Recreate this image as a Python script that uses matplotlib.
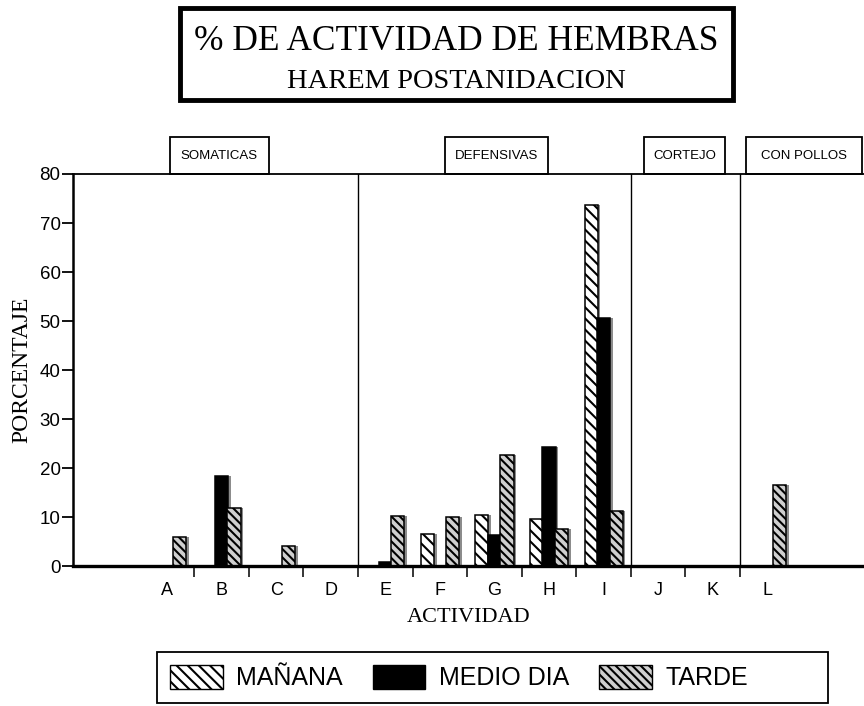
import matplotlib
matplotlib.use("Agg")
import matplotlib.pyplot as plt
import matplotlib.transforms as mtransforms
from matplotlib.patches import Patch, Rectangle
import numpy as np

# datos (porcentaje)
actividades = ["A", "B", "C", "D", "E", "F", "G", "H", "I", "J", "K", "L"]
manana = [0, 0, 0, 0, 0, 6.6, 10.5, 9.6, 73.6, 0, 0, 0]
medio_dia = [0, 18.5, 0, 0, 1.0, 0, 6.4, 24.4, 50.7, 0, 0, 0]
tarde = [6.0, 12.0, 4.1, 0, 10.3, 10.0, 22.8, 7.7, 11.3, 0, 0, 16.6]

grupos = ["SOMATICAS", "DEFENSIVAS", "CORTEJO", "CON POLLOS"]
grupo_inicio = [0.05, 5.09, 8.74, 10.6]
grupo_fin = [1.87, 6.98, 10.22, 12.73]
separadores = [3.5, 8.5, 10.5]

plt.rcParams["hatch.linewidth"] = 1.5
sans = "Liberation Sans"
serif = "Liberation Serif"

fig = plt.figure(figsize=(8.64, 7.06), dpi=100)
ax = fig.add_axes([0.0845, 0.1976, 0.9155, 0.556])

x = np.arange(len(actividades))
w = 0.24
off = 0.23
series = [
    (manana, -off, dict(facecolor="white", hatch="\\\\\\")),
    (medio_dia, 0, dict(facecolor="black")),
    (tarde, off, dict(facecolor="#cfcfcf", hatch="\\\\\\\\")),
]
for vals, dx, style in series:
    # sombra gris a la derecha de cada barra
    ax.bar(x + dx + 0.05, vals, w, color="#8c8c8c", zorder=1)
    ax.bar(x + dx, vals, w, edgecolor="black", linewidth=1.1, zorder=2, **style)

for s in separadores:
    ax.axvline(s, color="black", lw=1.0, zorder=0)

ax.set_xlim(-1.72, 12.77)
ax.set_ylim(0, 80)
ax.set_yticks(np.arange(0, 81, 10))
ax.set_xticks(x)
ax.set_xticklabels(actividades)
ax.set_xticks(np.arange(0.5, 11, 1), minor=True)
ax.tick_params(axis="x", which="major", length=0, pad=11, labelsize=13)
ax.tick_params(axis="x", which="minor", length=8, width=1.1, direction="out")
ax.tick_params(axis="y", length=8, width=1.3, pad=1, labelsize=13.5)
for lab in ax.get_xticklabels() + ax.get_yticklabels():
    lab.set_family(sans)

ax.spines["right"].set_visible(False)
ax.spines["bottom"].set_linewidth(2.4)
ax.spines["left"].set_linewidth(1.8)
ax.spines["top"].set_linewidth(1.3)

ax.set_ylabel("PORCENTAJE", family=serif, fontsize=17, labelpad=5)
ax.set_xlabel("ACTIVIDAD", family=serif, fontsize=16, labelpad=7)

# cajas de grupos sobre el eje
trans = mtransforms.blended_transform_factory(ax.transData, ax.transAxes)
for nombre, a, b in zip(grupos, grupo_inicio, grupo_fin):
    ax.add_patch(Rectangle((a, 1.0), b - a, 0.094, transform=trans, clip_on=False,
                           facecolor="white", edgecolor="black", lw=1.3))
    ax.text((a + b) / 2, 1.047, nombre, transform=trans, ha="center", va="center",
            family=sans, fontsize=9.5)

# titulo en recuadro
fig.patches.append(Rectangle((0.2083, 0.8584), 0.6401, 0.1303, transform=fig.transFigure,
                             facecolor="white", edgecolor="black", lw=3.5))
fig.text(0.5284, 0.9292, "% DE ACTIVIDAD DE HEMBRAS", ha="center", va="baseline",
         family=serif, fontsize=25.5)
fig.text(0.5284, 0.8754, "HAREM POSTANIDACION", ha="center", va="baseline",
         family=serif, fontsize=20.5)

# leyenda con recuadro propio
fig.patches.append(Rectangle((0.1817, 0.0042), 0.7766, 0.0723, transform=fig.transFigure,
                             facecolor="white", edgecolor="black", lw=1.3))
handles = [
    Patch(facecolor="white", edgecolor="black", hatch="\\\\\\", label="MAÑANA"),
    Patch(facecolor="black", edgecolor="black", label="MEDIO DIA"),
    Patch(facecolor="#cfcfcf", edgecolor="black", hatch="\\\\\\\\", label="TARDE"),
]
fig.legend(handles=handles, ncol=3, loc="center left",
           bbox_to_anchor=(0.1968, 0.0403),
           prop={"family": sans, "size": 18}, frameon=False,
           handlelength=2.1, handleheight=1.1, handletextpad=0.55,
           borderpad=0, borderaxespad=0, columnspacing=1.2)

fig.savefig("out.png", dpi=100)
